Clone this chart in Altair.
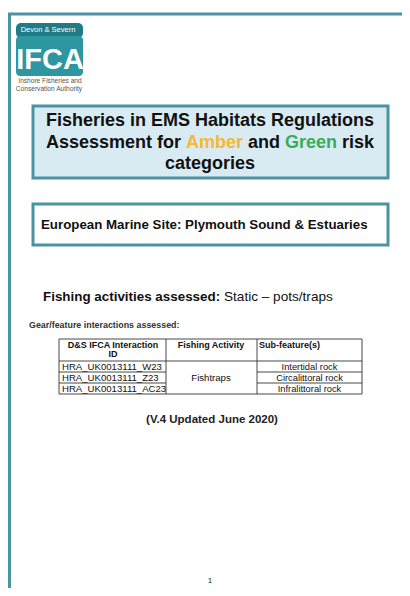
import altair as alt
import pandas as pd

# ---------------- content ----------------
LOGO_TOP = "Devon & Severn"
LOGO_MAIN = "IFCA"
LOGO_SUB = ["Inshore Fisheries and", "Conservation Authority"]

TITLE_LINE1 = "Fisheries in EMS Habitats Regulations"
TITLE_LINE2 = ["Assessment for", "Amber", "and", "Green", "risk"]
TITLE_LINE3 = "categories"

SITE = "European Marine Site: Plymouth Sound & Estuaries"
ACT_LABEL = "Fishing activities assessed:"
ACT_VALUE = "Static \u2013 pots/traps"
GEAR_LABEL = "Gear/feature interactions assessed:"

HEAD_ID = ["D&S IFCA Interaction", "ID"]
HEAD_ACTIVITY = "Fishing Activity"
HEAD_FEATURE = "Sub-feature(s)"
INTERACTION_IDS = ["HRA_UK0013111_W23", "HRA_UK0013111_Z23", "HRA_UK0013111_AC23"]
FISHING_ACTIVITY = "Fishtraps"
SUB_FEATURES = ["Intertidal rock", "Circalittoral rock", "Infralittoral rock"]

VERSION = "(V.4 Updated June 2020)"
PAGE_NO = "1"

# ---------------- layout / style ----------------
W, H = 394, 580
FONT = "Liberation Sans"
XS = alt.Scale(domain=[8, 8 + W], nice=False, zero=False)
YS = alt.Scale(domain=[8, 8 + H], nice=False, zero=False, reverse=True)
TEAL = "#4a93a2"
AMBER = "#f6b834"
GREEN = "#37ad5c"
LINE2_COLORS = ["#111111", AMBER, "#111111", GREEN, "#111111"]
LINE2_X = [113.5, 214.5, 264, 311, 358]


def text_layer(rows, size, weight="normal", color="#111111", align="center"):
    df = pd.DataFrame(rows, columns=["t", "x", "y"])
    return alt.Chart(df).mark_text(
        font=FONT, fontSize=size, fontWeight=weight, color=color,
        align=align, baseline="middle"
    ).encode(
        x=alt.X("x:Q", scale=XS, axis=None),
        y=alt.Y("y:Q", scale=YS, axis=None),
        text="t:N",
    )


def rect_layer(rows, fill, stroke=None, sw=0, radius=0):
    df = pd.DataFrame(rows, columns=["x", "x2", "y", "y2"])
    kw = dict(fill=fill, cornerRadius=radius)
    if stroke:
        kw.update(stroke=stroke, strokeWidth=sw)
    else:
        kw.update(strokeWidth=0)
    return alt.Chart(df).mark_rect(**kw).encode(
        x=alt.X("x:Q", scale=XS, axis=None), x2="x2:Q",
        y=alt.Y("y:Q", scale=YS, axis=None), y2="y2:Q",
    )


def rule_layer(rows, color, sw):
    df = pd.DataFrame(rows, columns=["x", "x2", "y", "y2"])
    return alt.Chart(df).mark_rule(color=color, strokeWidth=sw).encode(
        x=alt.X("x:Q", scale=XS, axis=None), x2="x2:Q",
        y=alt.Y("y:Q", scale=YS, axis=None), y2="y2:Q",
    )


layers = []

# page border
layers.append(rule_layer([[8, 410, 14, 14], [9.5, 9.5, 14, 596]], TEAL, 3))

# logo
layers.append(rect_layer([[16, 83, 23, 38]], "#1f7c86", radius=5))
layers.append(rect_layer([[16, 83, 36, 76]], "#2c97a0", radius=4))
layers.append(text_layer([[LOGO_TOP, 48, 30]], 7.5, "normal", "white"))
layers.append(text_layer([[LOGO_MAIN, 50, 60]], 29, "bold", "white"))
layers.append(text_layer([[LOGO_SUB[0], 50, 81], [LOGO_SUB[1], 49, 88.5]], 6.6, "normal", "#555555"))

# title box
layers.append(rect_layer([[33, 388, 106, 178]], "#d8ebf3", TEAL, 3))
layers.append(text_layer([[TITLE_LINE1, 210, 121]], 18, "bold"))
for seg, c, x in zip(TITLE_LINE2, LINE2_COLORS, LINE2_X):
    layers.append(text_layer([[seg, x, 143]], 18, "bold", c))
layers.append(text_layer([[TITLE_LINE3, 210, 164]], 18, "bold"))

# site box
layers.append(rect_layer([[33, 388, 204, 245]], "white", TEAL, 3))
layers.append(text_layer([[SITE, 41, 225]], 13.3, "bold", align="left"))

# activities
layers.append(text_layer([[ACT_LABEL, 43, 297]], 13.4, "bold", align="left"))
layers.append(text_layer([[ACT_VALUE, 224, 297]], 13.6, "normal", align="left"))
layers.append(text_layer([[GEAR_LABEL, 29, 325]], 8.9, "bold", "#333333", align="left"))

# table
TL, TR, TT, TB = 59, 362, 339, 394
C1, C2 = 166, 257
HB = 361
R1, R2 = 372, 383
layers.append(rect_layer([[TL, TR, TT, TB]], "white", "#333333", 0.9))
layers.append(rule_layer([
    [C1, C1, TT, TB], [C2, C2, TT, TB], [TL, TR, HB, HB],
    [TL, C1, R1, R1], [TL, C1, R2, R2], [C2, TR, R1, R1], [C2, TR, R2, R2],
], "#333333", 0.9))
layers.append(text_layer([[HEAD_ID[0], 113, 345], [HEAD_ID[1], 113, 354],
                          [HEAD_ACTIVITY, 211, 345]], 9, "bold"))
layers.append(text_layer([[HEAD_FEATURE, 259, 345]], 9, "bold", align="left"))
row_y = [367, 378, 389]
layers.append(text_layer([[t, 62, y] for t, y in zip(INTERACTION_IDS, row_y)], 9.6, "normal", align="left"))
layers.append(text_layer([[FISHING_ACTIVITY, 211, 378]], 9.6, "normal"))
layers.append(text_layer([[t, 309.5, y] for t, y in zip(SUB_FEATURES, row_y)], 9.3, "normal"))

# version + page number
layers.append(text_layer([[VERSION, 212, 420]], 11.5, "bold", "#222222"))
layers.append(text_layer([[PAGE_NO, 210, 581]], 8, "normal", "#222222"))

chart = alt.layer(*layers).properties(
    width=W, height=H,
    autosize=alt.AutoSizeParams(type="none"),
    padding=0,
    background="white",
).configure_view(stroke=None)

chart.save("out.html", embed_options={"renderer": "svg", "actions": False})
